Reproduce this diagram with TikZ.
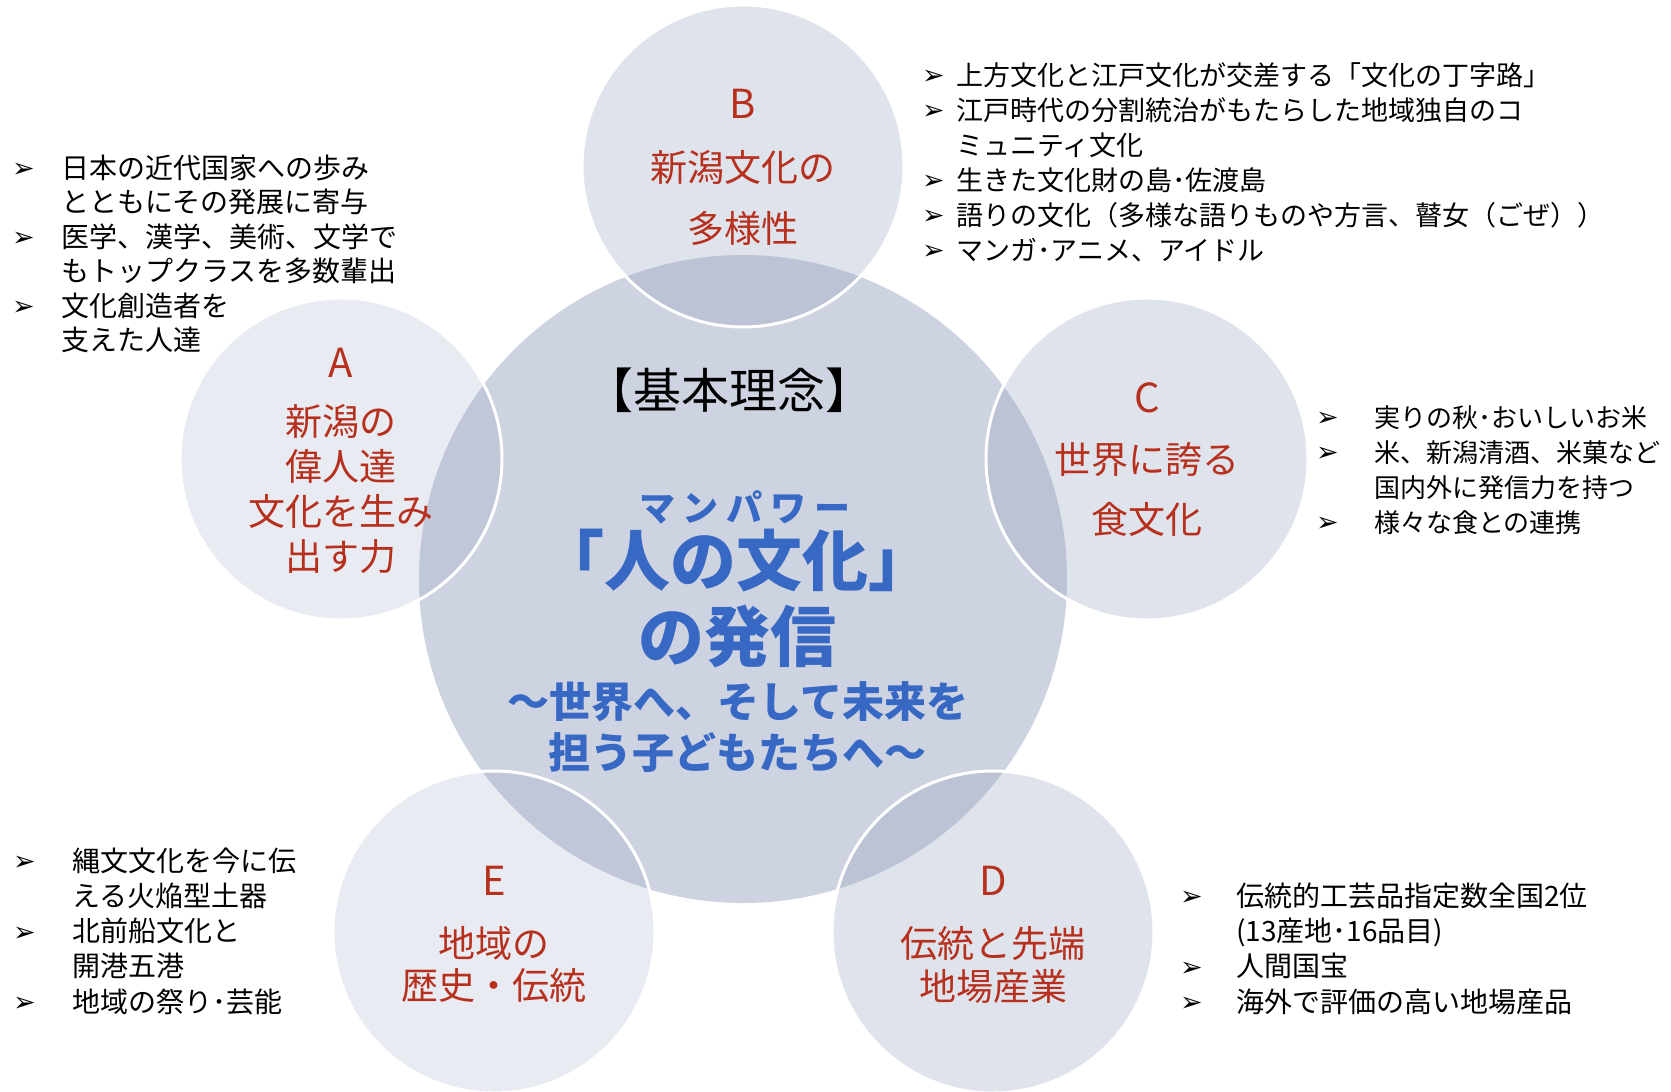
\documentclass[tikz,border=0pt]{standalone}
\usepackage{fontspec}
\setmainfont{Noto Sans CJK JP}
\newfontfamily\dvs{DejaVu Sans}
\definecolor{coreblue}{RGB}{205,211,224}
\definecolor{satblue}{RGB}{141,155,187}
\definecolor{labred}{RGB}{183,48,30}
\definecolor{msgblue}{RGB}{54,104,196}
\newcommand\blt[1]{\makebox[#1][l]{\raisebox{0.5pt}{\dvs\fontsize{27}{27}\selectfont ➢}}}
\newcommand\ind[1]{\hspace*{#1}}
\newcommand\fs[2]{\fontsize{#1}{#2}\selectfont}
\begin{document}
\begin{tikzpicture}[x=1pt,y=-1pt,
  circ/.style={circle,inner sep=0pt,outer sep=0pt},
  core/.style={circ,fill=coreblue,minimum size=648pt},
  sat/.style={circ,fill=satblue,fill opacity=#1,draw=white,line width=3pt,minimum size=322pt},
  lab/.style={text=labred,align=center,inner sep=0pt,anchor=base},
  lst/.style={align=left,inner sep=0pt,anchor=base west,text=black},
  msg/.style={text=msgblue,inner sep=0pt,anchor=base}
]
\useasboundingbox (0,0) rectangle (1671,1092);
\fill[white] (0,0) rectangle (1671,1092);
% circles
\node[core] (core) at (743,579) {};
\node[sat=0.28] (B) at (743,166) {};
\node[sat=0.2] (A) at (341,459) {};
\node[sat=0.28] (C) at (1147,459) {};
\node[sat=0.2] (E) at (494,932) {};
\node[sat=0.28] (D) at (993,932) {};
% circle labels (base anchor = baseline of last line)
\node[lab,font=\fs{40}{40}] (Bl) at (743,118) {B};
\node[lab,font=\fs{37}{61}] (Bt) at (743,242) {新潟文化の\\多様性};
\node[lab,font=\fs{40}{40}] (Al) at (341,377) {A};
\node[lab,font=\fs{37}{44.7}] (At) at (341,570) {新潟の\\偉人達\\文化を生み\\出す力};
\node[lab,font=\fs{40}{40}] (Cl) at (1147,412) {C};
\node[lab,font=\fs{37}{60}] (Ct) at (1147,533) {世界に誇る\\食文化};
\node[lab,font=\fs{40}{40}] (El) at (494,895) {E};
\node[lab,font=\fs{37}{42}] (Et) at (494,999) {地域の\\歴史・伝統};
\node[lab,font=\fs{40}{40}] (Dl) at (993,895) {D};
\node[lab,font=\fs{37}{43}] (Dt) at (993,1000) {伝統と先端\\地場産業};
% central message
\node[inner sep=0pt,anchor=base,font=\fs{48}{48}] (kihon) at (729,408) {【基本理念】};
\node[msg,font=\bfseries\fs{36}{36}] (ruby) at (745,521) {マ\kern8pt ン\kern8pt パ\kern8pt ワ\kern8pt ー};
\node[msg,font=\bfseries\fs{66}{66}] (hito) at (736,585) {「人の文化」};
\node[msg,font=\bfseries\fs{66}{66}] (hasshin) at (737,661) {の発信};
\node[msg,font=\bfseries\fs{42}{42}] (sekai) at (738,717) {〜世界へ、そして未来を};
\node[msg,font=\bfseries\fs{42}{42}] (kodomo) at (737,768) {担う子どもたちへ〜};
% lists (base anchor = baseline of last line)
\node[lst,font=\fs{28}{34.5}] (LA) at (12,350.5) {\blt{49pt}日本の近代国家への歩み\\\ind{49pt}とともにその発展に寄与\\\blt{49pt}医学、漢学、美術、文学で\\\ind{49pt}もトップクラスを多数輩出\\\blt{49pt}文化創造者を\\\ind{49pt}支えた人達};
\node[lst,font=\fs{27}{35}] (LB) at (922,260) {\blt{34pt}上方文化と江戸文化が交差する「文化の丁字路」\\\blt{34pt}江戸時代の分割統治がもたらした地域独自のコ\\\ind{34pt}ミュニティ文化\\\blt{34pt}生きた文化財の島･佐渡島\\\blt{34pt}語りの文化（多様な語りものや方言、瞽女（ごぜ））\\\blt{34pt}マンガ･アニメ、アイドル};
\node[lst,font=\fs{26}{35}] (LC) at (1316,532) {\blt{58pt}実りの秋･おいしいお米\\\blt{58pt}米、新潟清酒、米菓など\\\ind{58pt}国内外に発信力を持つ\\\blt{58pt}様々な食との連携};
\node[lst,font=\fs{28}{35.3}] (LD) at (1180,1012) {\blt{56pt}伝統的工芸品指定数全国2位\\\ind{56pt}(13産地･16品目)\\\blt{56pt}人間国宝\\\blt{56pt}海外で評価の高い地場産品};
\node[lst,font=\fs{28}{35.2}] (LE) at (13,1012) {\blt{59pt}縄文文化を今に伝\\\ind{59pt}える火焔型土器\\\blt{59pt}北前船文化と\\\ind{59pt}開港五港\\\blt{59pt}地域の祭り･芸能};
\end{tikzpicture}
\end{document}
